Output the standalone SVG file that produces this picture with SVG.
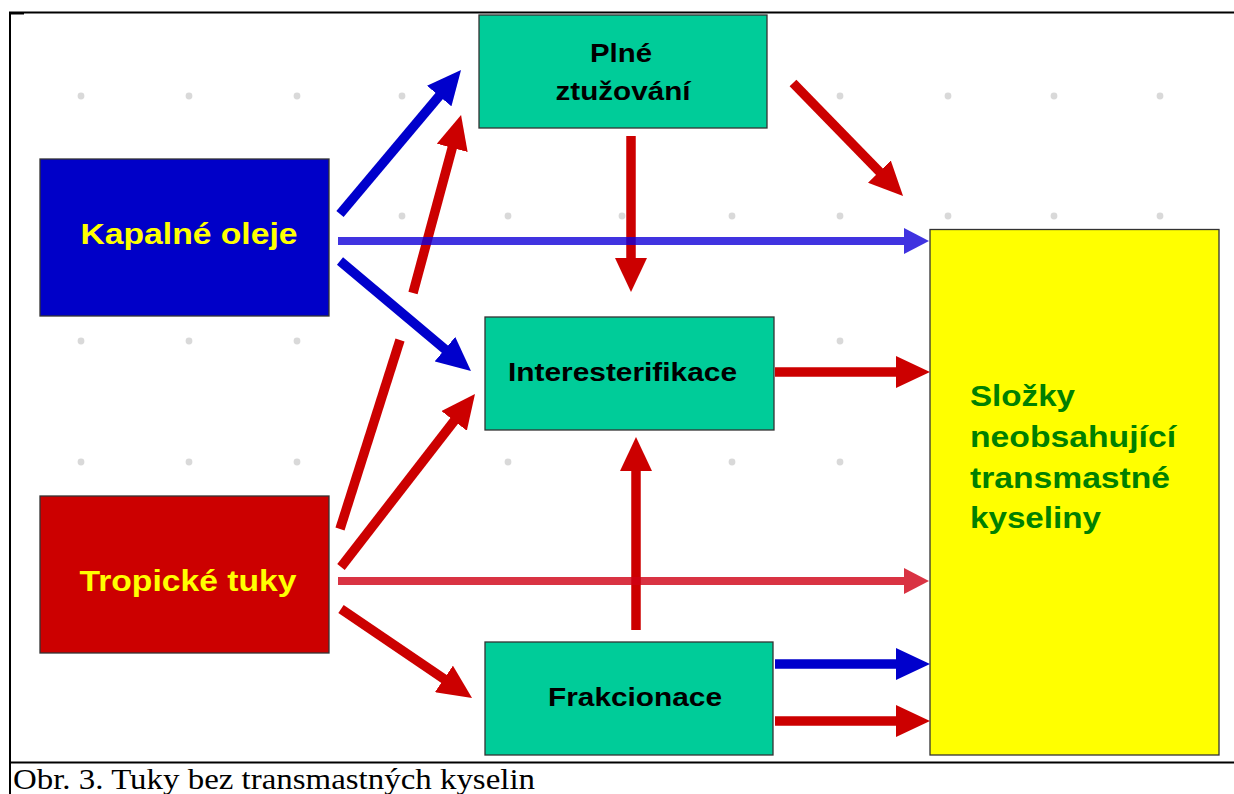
<svg xmlns="http://www.w3.org/2000/svg" width="1234" height="794" viewBox="0 0 1234 794">
  <style>
    .box { stroke: #333333; stroke-width: 1.3; }
    .lbl { font-family: "Liberation Sans", Arial, sans-serif; font-weight: bold; }
    .src-lbl { font-size: 30px; fill: #FFFF00; text-anchor: middle; }
    .proc-lbl { font-size: 26px; fill: #000000; text-anchor: middle; }
    .out-lbl { font-size: 30px; fill: #008000; }
    .dot { fill: #D9D9D9; }
    .blue { stroke: #0000CC; stroke-width: 9.5; fill: none; }
    .red { stroke: #CC0000; stroke-width: 9.5; fill: none; }
    .blue-soft { stroke: #1000D8; stroke-opacity: 0.8; stroke-width: 8; fill: none; }
    .red-soft { stroke: #CF0014; stroke-opacity: 0.8; stroke-width: 8; fill: none; }
  </style>
  <defs>
    <marker id="head-blue" markerUnits="userSpaceOnUse" markerWidth="34" markerHeight="32" viewBox="0 0 34 32" refX="10" refY="16" orient="auto">
      <path d="M0,0 L34,16 L0,32 z" fill="#0000CC"/>
    </marker>
    <marker id="head-red" markerUnits="userSpaceOnUse" markerWidth="34" markerHeight="32" viewBox="0 0 34 32" refX="10" refY="16" orient="auto">
      <path d="M0,0 L34,16 L0,32 z" fill="#CC0000"/>
    </marker>
    <marker id="head-blue-soft" markerUnits="userSpaceOnUse" markerWidth="25" markerHeight="26" viewBox="0 0 25 26" refX="0" refY="13" orient="auto">
      <path d="M0,0 L25,13 L0,26 z" fill="#1000D8" fill-opacity="0.8"/>
    </marker>
    <marker id="head-red-soft" markerUnits="userSpaceOnUse" markerWidth="25" markerHeight="26" viewBox="0 0 25 26" refX="0" refY="13" orient="auto">
      <path d="M0,0 L25,13 L0,26 z" fill="#CF0014" fill-opacity="0.8"/>
    </marker>
  </defs>

  <rect width="1234" height="794" fill="#FFFFFF"/>

  <!-- page frame -->
  <g id="frame" stroke="#000000" stroke-width="2" fill="none">
    <line x1="9" y1="12.5" x2="1234" y2="12.5"/>
    <line x1="10" y1="12" x2="10" y2="794"/>
    <line x1="9" y1="762.5" x2="1234" y2="762.5"/>
  </g>
  <rect x="9" y="12" width="15" height="2.5" fill="#000000"/>

  <!-- background dot grid -->
  <g id="grid">
    <circle class="dot" cx="81" cy="96" r="3.4"/>
    <circle class="dot" cx="189" cy="96" r="3.4"/>
    <circle class="dot" cx="297" cy="96" r="3.4"/>
    <circle class="dot" cx="402" cy="96" r="3.4"/>
    <circle class="dot" cx="840" cy="96" r="3.4"/>
    <circle class="dot" cx="948" cy="96" r="3.4"/>
    <circle class="dot" cx="1054" cy="96" r="3.4"/>
    <circle class="dot" cx="1160" cy="96" r="3.4"/>

    <circle class="dot" cx="402" cy="216" r="3.4"/>
    <circle class="dot" cx="508" cy="216" r="3.4"/>
    <circle class="dot" cx="622" cy="216" r="3.4"/>
    <circle class="dot" cx="732" cy="216" r="3.4"/>
    <circle class="dot" cx="840" cy="216" r="3.4"/>
    <circle class="dot" cx="948" cy="216" r="3.4"/>
    <circle class="dot" cx="1054" cy="216" r="3.4"/>
    <circle class="dot" cx="1160" cy="216" r="3.4"/>

    <circle class="dot" cx="81" cy="341" r="3.4"/>
    <circle class="dot" cx="189" cy="341" r="3.4"/>
    <circle class="dot" cx="297" cy="341" r="3.4"/>
    <circle class="dot" cx="840" cy="341" r="3.4"/>

    <circle class="dot" cx="81" cy="462" r="3.4"/>
    <circle class="dot" cx="189" cy="462" r="3.4"/>
    <circle class="dot" cx="297" cy="462" r="3.4"/>
    <circle class="dot" cx="508" cy="462" r="3.4"/>
    <circle class="dot" cx="732" cy="462" r="3.4"/>
    <circle class="dot" cx="840" cy="462" r="3.4"/>
  </g>

  <!-- nodes -->
  <g id="kapalne-oleje">
    <rect class="box" x="40" y="159" width="289" height="157" fill="#0000C8"/>
    <text class="lbl src-lbl" x="189" y="244" textLength="217" lengthAdjust="spacingAndGlyphs">Kapalné oleje</text>
  </g>
  <g id="tropicke-tuky">
    <rect class="box" x="40" y="496" width="289" height="157" fill="#CC0000"/>
    <text class="lbl src-lbl" x="188" y="591" textLength="217" lengthAdjust="spacingAndGlyphs">Tropické tuky</text>
  </g>
  <g id="plne-ztuzovani">
    <rect class="box" x="479" y="15" width="288" height="113" fill="#00CC99"/>
    <text class="lbl proc-lbl" x="621" y="62" textLength="62" lengthAdjust="spacingAndGlyphs">Plné</text>
    <text class="lbl proc-lbl" x="623" y="100" textLength="135" lengthAdjust="spacingAndGlyphs">ztužování</text>
  </g>
  <g id="interesterifikace">
    <rect class="box" x="485" y="317" width="289" height="113" fill="#00CC99"/>
    <text class="lbl proc-lbl" x="622.5" y="381" textLength="229" lengthAdjust="spacingAndGlyphs">Interesterifikace</text>
  </g>
  <g id="frakcionace">
    <rect class="box" x="485" y="642" width="288" height="113" fill="#00CC99"/>
    <text class="lbl proc-lbl" x="635" y="706" textLength="174" lengthAdjust="spacingAndGlyphs">Frakcionace</text>
  </g>
  <g id="slozky">
    <rect class="box" x="930" y="229.5" width="289" height="525.5" fill="#FFFF00"/>
    <text class="lbl out-lbl" x="970" y="406" textLength="105" lengthAdjust="spacingAndGlyphs">Složky</text>
    <text class="lbl out-lbl" x="970" y="447" textLength="206" lengthAdjust="spacingAndGlyphs">neobsahující</text>
    <text class="lbl out-lbl" x="970" y="488" textLength="200" lengthAdjust="spacingAndGlyphs">transmastné</text>
    <text class="lbl out-lbl" x="970" y="528" textLength="131" lengthAdjust="spacingAndGlyphs">kyseliny</text>
  </g>

  <!-- connectors -->
  <g id="connectors">
    <!-- Kapalné oleje -> Plné ztužování -->
    <line class="blue" x1="340" y1="214" x2="445.6" y2="88.4" marker-end="url(#head-blue)"/>
    <!-- Tropické tuky -> Plné ztužování (broken where it passes under another arrow) -->
    <line class="red" x1="340" y1="529" x2="400" y2="340"/>
    <line class="red" x1="413" y1="293" x2="454.8" y2="138.2" marker-end="url(#head-red)"/>
    <!-- Kapalné oleje -> Interesterifikace -->
    <line class="blue" x1="340" y1="261" x2="452.6" y2="355.6" marker-end="url(#head-blue)"/>
    <!-- Plné ztužování -> Interesterifikace -->
    <line class="red" x1="631" y1="136" x2="631" y2="268" marker-end="url(#head-red)"/>
    <!-- Plné ztužování -> Složky -->
    <line class="red" x1="793" y1="83" x2="886.3" y2="178.8" marker-end="url(#head-red)"/>
    <!-- Interesterifikace -> Složky -->
    <line class="red" x1="775" y1="372" x2="906" y2="372" marker-end="url(#head-red)"/>
    <!-- Tropické tuky -> Interesterifikace -->
    <line class="red" x1="341" y1="567" x2="460.3" y2="413" marker-end="url(#head-red)"/>
    <!-- Tropické tuky -> Frakcionace -->
    <line class="red" x1="341" y1="609" x2="452.2" y2="684.5" marker-end="url(#head-red)"/>
    <!-- Frakcionace -> Interesterifikace -->
    <line class="red" x1="636" y1="630" x2="636" y2="461" marker-end="url(#head-red)"/>
    <!-- Frakcionace -> Složky -->
    <line class="blue" x1="775" y1="664" x2="906" y2="664" marker-end="url(#head-blue)"/>
    <line class="red" x1="775" y1="721" x2="906" y2="721" marker-end="url(#head-red)"/>
    <!-- direct routes to Složky -->
    <line class="blue-soft" x1="338" y1="241" x2="904" y2="241" marker-end="url(#head-blue-soft)"/>
    <line class="red-soft" x1="338" y1="581" x2="904" y2="581" marker-end="url(#head-red-soft)"/>
  </g>

  <!-- caption -->
  <text id="caption" x="13" y="789" font-family="Liberation Serif, 'Times New Roman', serif" font-size="29" fill="#000000" textLength="522" lengthAdjust="spacingAndGlyphs">Obr. 3. Tuky bez transmastných kyselin</text>
</svg>
